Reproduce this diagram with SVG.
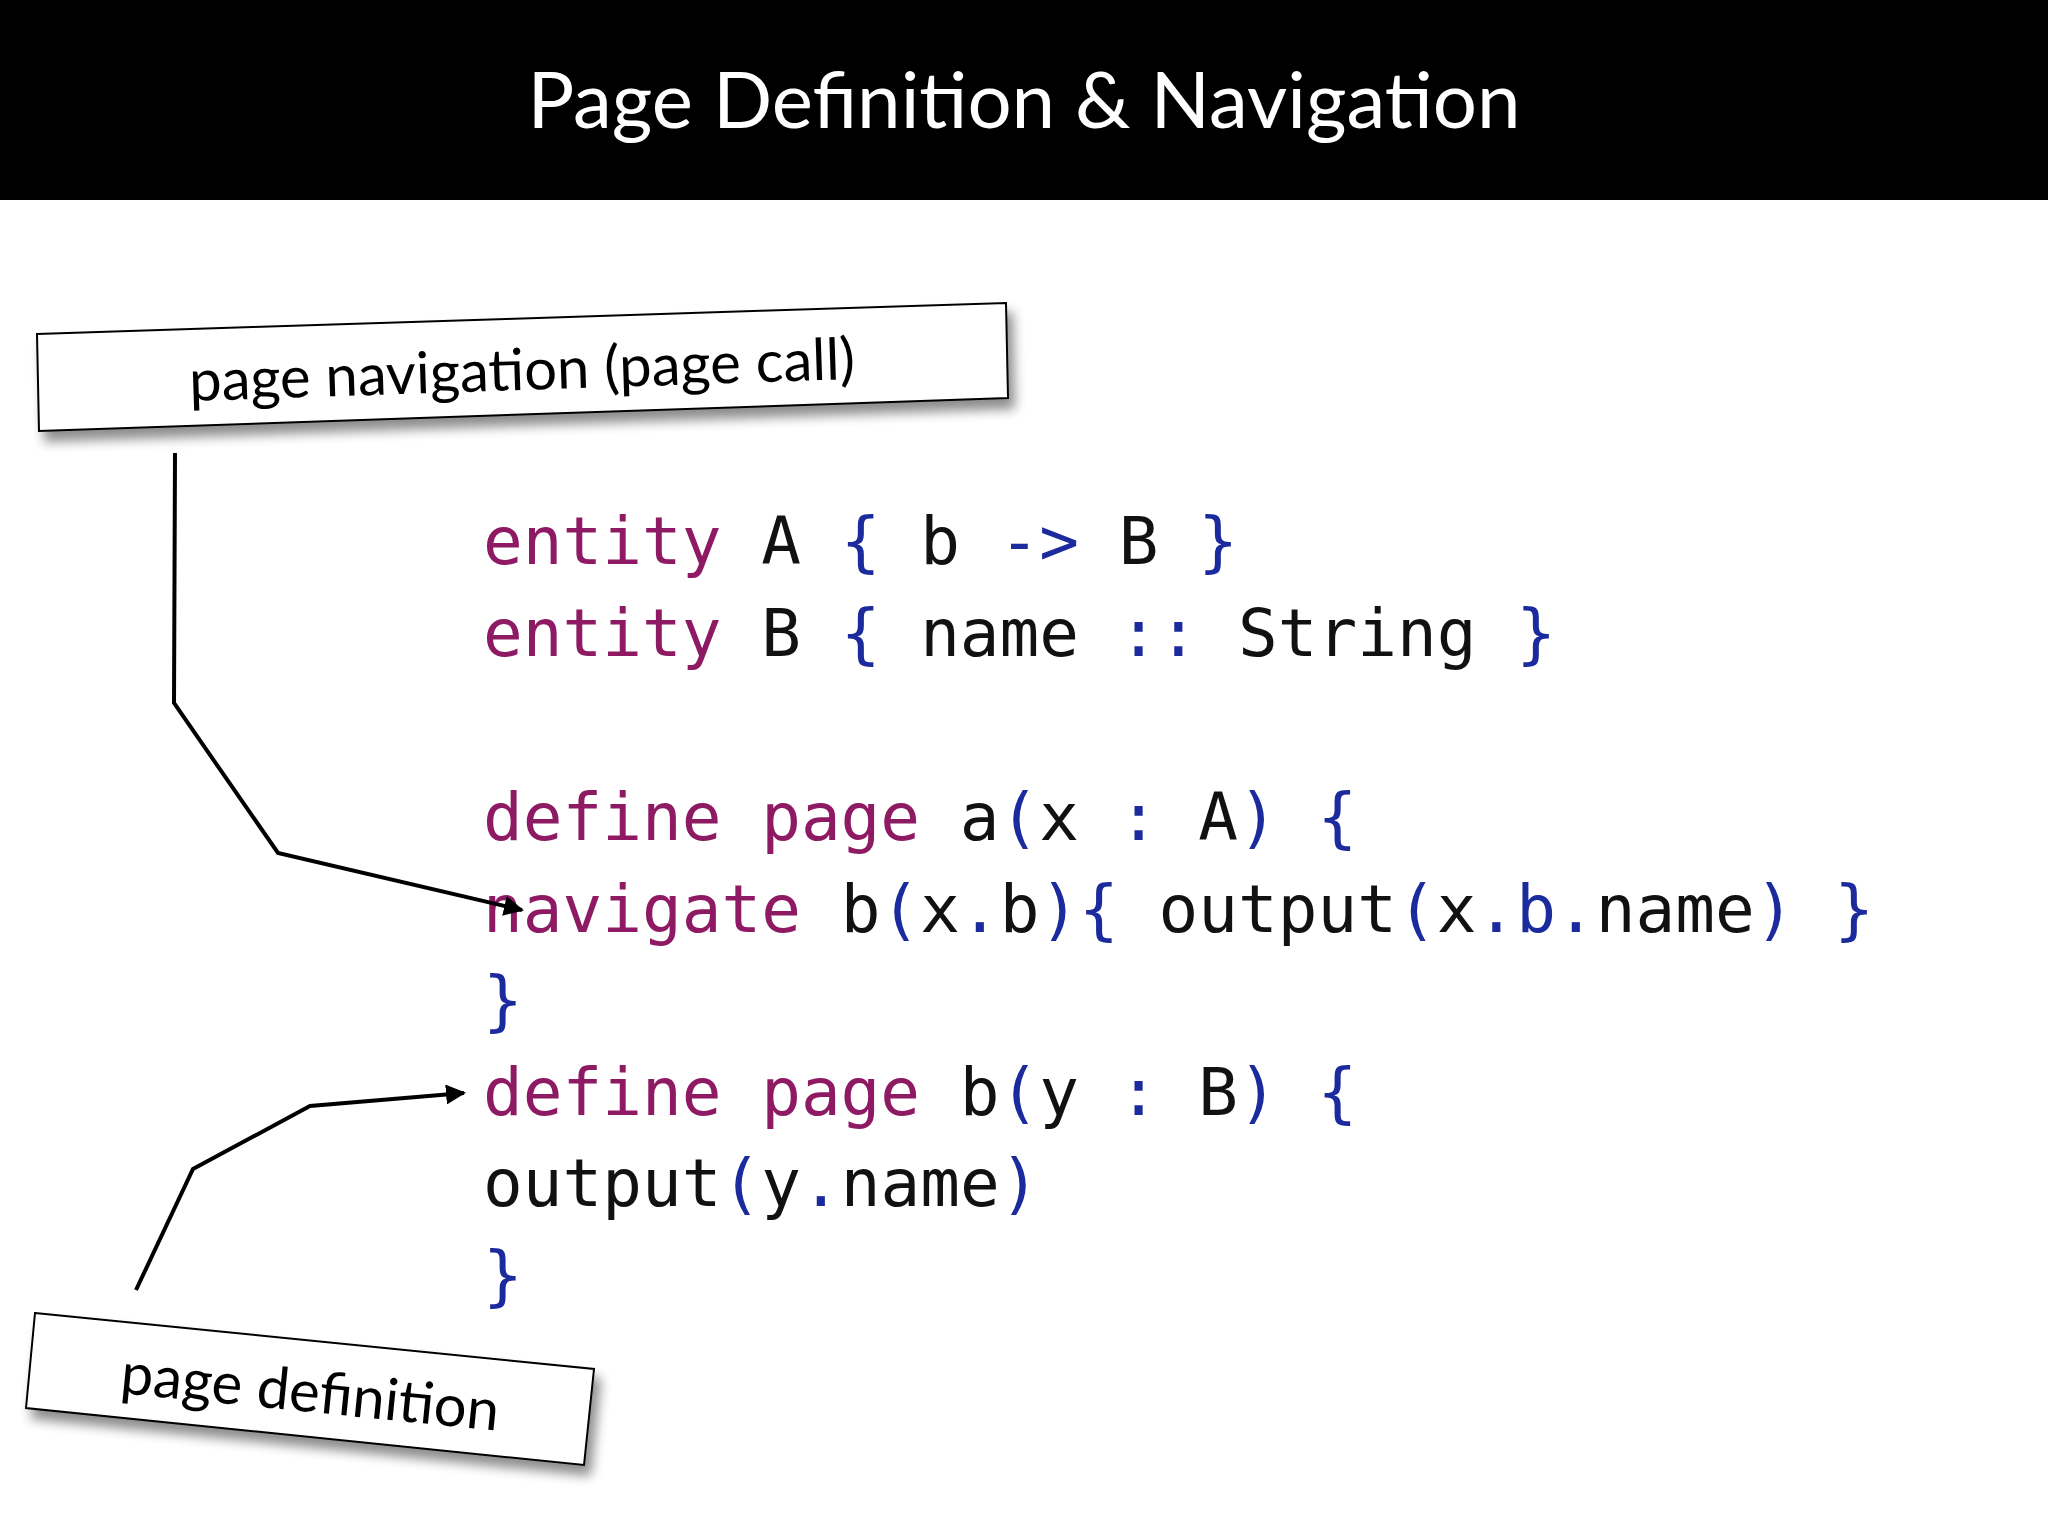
<svg xmlns="http://www.w3.org/2000/svg" width="2048" height="1536" viewBox="0 0 2048 1536">
<defs>
<style>
.code{font-family:"DejaVu Sans Mono","Liberation Mono",monospace;font-size:66px;fill:#111;white-space:pre}
.k{fill:#8e1a64}.p{fill:#1b2a9c}
.lbl{font-family:"Lato","Open Sans",sans-serif;font-size:58px;fill:#000}
.box{fill:#fff;stroke:#000;stroke-width:2}
.con{fill:none;stroke:#000;stroke-width:4}
</style>
<marker id="ah" viewBox="0 0 10 10" refX="9" refY="5" markerWidth="5" markerHeight="5" orient="auto" markerUnits="strokeWidth"><path d="M0,0L10,5L0,10z" fill="#000"/></marker>
<filter id="sh" x="-10%" y="-30%" width="130%" height="180%"><feGaussianBlur in="SourceAlpha" stdDeviation="6"/><feOffset dx="6" dy="10"/><feComponentTransfer><feFuncA type="linear" slope="0.45"/></feComponentTransfer><feMerge><feMergeNode/><feMergeNode in="SourceGraphic"/></feMerge></filter>
</defs>
<rect width="2048" height="1536" fill="#fff"/>
<rect width="2048" height="200" fill="#000"/>
<text x="1024" y="128" text-anchor="middle" font-family="Lato,'Open Sans',sans-serif" font-size="78" fill="#fff">Page Definition &amp; Navigation</text>
<g id="code" class="code" xml:space="preserve">
<text x="483" y="564"><tspan class="k">entity</tspan> A <tspan class="p">{</tspan> b <tspan class="p">-&gt;</tspan> B <tspan class="p">}</tspan></text>
<text x="483" y="656"><tspan class="k">entity</tspan> B <tspan class="p">{</tspan> name <tspan class="p">::</tspan> String <tspan class="p">}</tspan></text>
<text x="483" y="840"><tspan class="k">define page</tspan> a<tspan class="p">(</tspan>x <tspan class="p">:</tspan> A<tspan class="p">)</tspan> <tspan class="p">{</tspan></text>
<text x="483" y="932">  <tspan class="k">navigate</tspan> b<tspan class="p">(</tspan>x<tspan class="p">.</tspan>b<tspan class="p">){</tspan> output<tspan class="p">(</tspan>x<tspan class="p">.b.</tspan>name<tspan class="p">)</tspan> <tspan class="p">}</tspan></text>
<text x="483" y="1023"><tspan class="p">}</tspan></text>
<text x="483" y="1115"><tspan class="k">define page</tspan> b<tspan class="p">(</tspan>y <tspan class="p">:</tspan> B<tspan class="p">)</tspan> <tspan class="p">{</tspan></text>
<text x="483" y="1206">  output<tspan class="p">(</tspan>y<tspan class="p">.</tspan>name<tspan class="p">)</tspan></text>
<text x="483" y="1298"><tspan class="p">}</tspan></text>
</g>
<g id="nav-label">
<polygon class="box" filter="url(#sh)" points="37,334 1006,303 1008,398 39,431"/>
<text class="lbl" x="522" y="390" text-anchor="middle" transform="rotate(-1.9 522 372)">page navigation (page call)</text>
</g>
<g id="def-label">
<polygon class="box" filter="url(#sh)" points="35,1313 594,1369 584,1465 26,1408"/>
<text class="lbl" x="310" y="1412" text-anchor="middle" transform="rotate(5.7 310 1395)">page definition</text>
</g>
<g id="connectors">
<polyline class="con" marker-end="url(#ah)" points="175,453 174,703 278,853 522,910"/>
<polyline class="con" marker-end="url(#ah)" points="136,1290 193,1169 310,1106 464,1093"/>
</g>
</svg>
